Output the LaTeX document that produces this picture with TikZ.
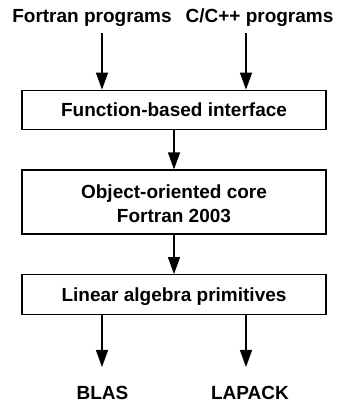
\documentclass[tikz,border=0pt]{standalone}
\usepackage{fontspec}
\setmainfont{Liberation Sans}
\usetikzlibrary{arrows.meta}
\begin{document}
\begin{tikzpicture}[x=1pt,y=1pt,
  every node/.style={font=\fontsize{19}{24}\selectfont\bfseries, inner sep=0pt},
  layer/.style={draw, line width=1.2pt, minimum width=304pt, align=center},
  oneline/.style={text height=13.6pt, text depth=0pt},
  twolines/.style={text height=41.4pt, text depth=0pt},
  tag/.style={anchor=base},
  flow/.style={line width=1.3pt, -{Triangle[length=17pt,width=12pt]}}]
  \useasboundingbox (0,0) rectangle (339,406);

  % callers
  \node[tag] (fp) at (92,383) {Fortran programs};
  \node[tag] (cp) at (259.5,383) {C/C++ programs};

  % library layers
  \node[layer, oneline, minimum height=39.5pt] (api) at (174,296) {Function-based interface};
  \node[layer, twolines, minimum height=64pt] (core) at (174,204) {Object-oriented core\\Fortran 2003};
  \node[layer, oneline, minimum height=39.5pt] (prim) at (174,111.5) {Linear algebra primitives};

  % back ends
  \node[tag] (blas) at (102.5,6) {BLAS};
  \node[tag] (lapack) at (250,6) {LAPACK};

  % arrow end points
  \coordinate (fpo) at (102,373);
  \coordinate (cpo) at (246,373);
  \coordinate (blasi) at (102,39);
  \coordinate (lapacki) at (246,39);

  \draw[flow] (fpo) -- (fpo |- api.north);
  \draw[flow] (cpo) -- (cpo |- api.north);
  \draw[flow] (api) -- (core);
  \draw[flow] (core) -- (prim);
  \draw[flow] (blasi |- prim.south) -- (blasi);
  \draw[flow] (lapacki |- prim.south) -- (lapacki);
\end{tikzpicture}
\end{document}
